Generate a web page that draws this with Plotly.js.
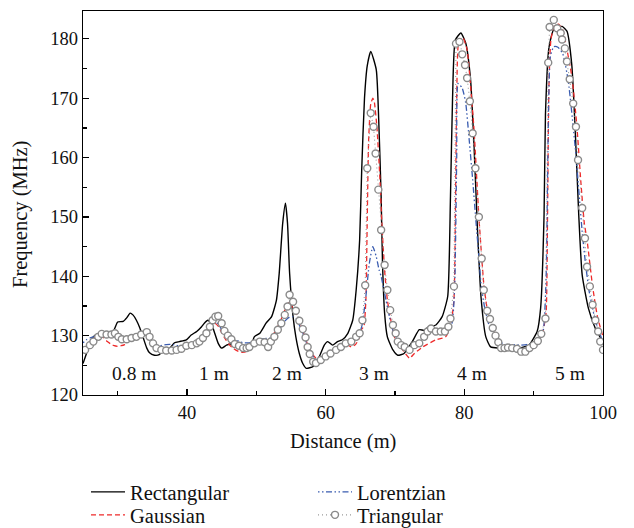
<!DOCTYPE html>
<html>
<head>
<meta charset="utf-8">
<script src="https://cdn.plot.ly/plotly-3.0.1.min.js"></script>
<style>html,body{margin:0;padding:0;background:#fff;}#chart{width:634px;height:528px;}</style>
</head>
<body>
<div id="chart"></div>
<script>
// Rectangular (black solid)
const rectX = [25, 25.5, 26, 26.5, 27, 28, 29, 29.5, 30, 30.8, 31.3, 31.8, 32.2, 32.7, 33.2, 33.7, 34.2, 34.6, 35.3, 36, 36.6, 37.5, 38.2, 38.9, 39.9, 40.6, 41.4, 42.1, 42.5, 43, 43.5, 44, 44.5, 45, 45.7, 46.4, 47.3, 48.3, 49.3, 49.7, 50.5, 51.4, 52.2, 52.9, 53.3, 53.8, 54.2, 54.5, 54.8, 55.3, 55.7, 56.2, 56.7, 57.2, 58.2, 59.1, 59.8, 60.3, 61, 61.7, 62.4, 63.2, 63.9, 64.4, 64.9, 65.2, 65.6, 66, 66.5, 67.3, 67.7, 68, 68.2, 68.5, 68.9, 69.7, 70.4, 71.3, 72.5, 73.5, 74.2, 74.9, 75.9, 76.8, 77.6, 78, 78.3, 78.7, 79.5, 80.2, 80.9, 81.4, 81.9, 82.4, 83.1, 83.8, 85, 86.5, 87.9, 89.3, 90.5, 91, 91.5, 91.7, 92.2, 92.9, 94.1, 94.8, 95.5, 96, 96.5, 97, 97.9, 98.9, 99.8];
const rectY = [125.3, 127, 128.8, 129.8, 130.2, 130.3, 130.2, 131, 132.3, 132.4, 133, 133.8, 133.5, 132.6, 131.3, 129.6, 127.9, 127.1, 126.7, 126.8, 127.6, 127.9, 128.8, 129, 129.3, 130.1, 130.7, 131.5, 132.1, 132.6, 132.1, 130.4, 128.7, 127.9, 128.4, 128.6, 128.3, 128.2, 128.5, 129.8, 130.4, 132.1, 133.2, 136, 140.5, 148.9, 152.3, 148.9, 140.5, 133.2, 129.8, 127, 125.3, 124.5, 124.8, 126.5, 128.4, 129, 128.4, 129, 129.3, 130.4, 132.6, 137.7, 146.1, 158, 170, 175.5, 177.9, 174.8, 164.7, 153.4, 142.2, 133.8, 129.8, 127.6, 126.7, 127, 129, 131, 130.9, 131.5, 131.8, 133.2, 136.6, 153.4, 170, 179.8, 181, 179.3, 173.1, 161.9, 147.8, 136.6, 129.8, 128.1, 127.9, 127.9, 127.9, 128.4, 130.7, 134.6, 150.4, 167.2, 178.5, 181.6, 182.1, 181.3, 175.6, 164.4, 150.4, 140.2, 134.6, 131.2, 129.3];

// Gaussian (red dashed)
const gaussX = [25, 25.5, 26, 26.5, 27, 27.5, 28, 28.5, 29, 29.5, 30, 30.5, 31, 31.5, 32, 32.5, 33, 33.5, 34, 34.5, 35, 35.5, 36, 37, 38, 39, 40, 41, 41.5, 42, 42.5, 43, 43.5, 44, 44.5, 45, 45.5, 46, 46.5, 47, 47.5, 48, 48.5, 49, 49.5, 50, 50.5, 51, 51.5, 52, 52.5, 53, 53.5, 54, 54.5, 54.8, 55.2, 55.6, 56, 56.5, 57, 57.5, 58, 58.5, 59, 59.5, 60, 61, 62, 62.9, 63.7, 64.3, 64.8, 65.1, 65.5, 65.8, 66, 66.2, 66.5, 66.8, 67, 67.4, 67.8, 68.1, 68.5, 68.9, 69.4, 69.9, 70.5, 71.1, 72.1, 72.8, 74, 75.9, 77.3, 78, 78.5, 78.7, 78.9, 79.2, 79.8, 80.4, 80.9, 81.4, 82.1, 82.8, 83.3, 83.8, 84.3, 84.8, 85.3, 86, 87, 88, 89, 89.5, 90.3, 90.9, 91.4, 91.8, 92, 92.2, 92.5, 93, 93.6, 94.2, 94.8, 95.5, 96.2, 96.8, 97.3, 97.7, 98.5, 99.2, 100];
const gaussY = [127.5, 128, 129, 129.5, 130, 130.1, 129.6, 129, 128.6, 128.3, 128.2, 128.3, 128.5, 128.9, 129.3, 129.7, 130, 130.4, 130.6, 130.2, 129, 128, 127.5, 127.3, 127.3, 127.6, 127.9, 128.2, 128.6, 129.2, 130, 131, 131.8, 132.1, 131.6, 130.5, 129.5, 128.6, 128, 127.6, 127.3, 127.2, 127.3, 127.8, 128.4, 128.8, 129, 128.9, 128.6, 129.2, 130.3, 131.3, 132.5, 134, 135.3, 135.7, 134.8, 134, 133.2, 131.5, 129.8, 128.2, 127, 126.3, 126, 126.2, 126.6, 127.3, 128, 128.6, 128.1, 128.5, 129.5, 131, 131.5, 136, 150, 163, 169, 170, 169.5, 165, 157, 149, 141, 136, 132.6, 129.8, 128.5, 127.6, 126.2, 127, 128.1, 129.3, 129.8, 131.5, 136, 150, 170, 179.5, 180.2, 178.2, 172, 164.7, 150, 138.8, 134.5, 132.5, 130.8, 129.3, 128.3, 127.9, 127.8, 127.6, 127.8, 128, 128.6, 129.5, 131, 134, 150, 172, 180, 182.2, 182.5, 181.5, 178.2, 173.7, 165.8, 156, 149, 146.1, 138.3, 133.2, 129.8];

// Lorentzian (blue dash-dot)
const lorX = [25, 25.5, 26, 26.5, 27, 28, 29, 30, 31, 32, 33, 33.8, 34.5, 35, 35.5, 36, 37, 38, 39, 40, 41, 42, 43, 43.5, 44, 44.5, 45, 45.5, 46, 47, 48, 49, 50, 51, 52, 52.6, 53.3, 54, 54.6, 55.2, 55.8, 56.3, 57, 57.5, 58, 58.6, 59.3, 60, 61, 62, 63, 64, 64.8, 65.3, 65.8, 66.3, 66.8, 67.3, 67.7, 68, 68.7, 69.2, 69.8, 70.5, 71.5, 72.5, 73.5, 74.5, 75.5, 76.5, 77.5, 78.2, 78.6, 78.9, 79.1, 79.7, 80.2, 80.7, 81.2, 81.7, 82.1, 82.4, 82.9, 83.5, 84, 85, 86, 87, 88, 89, 90, 90.8, 91.4, 91.8, 92.1, 92.4, 92.9, 93.5, 94.2, 95, 96, 97, 97.5, 98, 98.7, 99.3, 100];
const lorY = [128.8, 129.3, 129.6, 129.8, 130, 130.2, 130, 129.6, 129.5, 129.8, 130.2, 130.5, 130, 129, 128.5, 128.3, 128.5, 128.5, 128.2, 128.3, 128.8, 129.5, 130.8, 131.8, 132.2, 132, 131, 130, 129.5, 129.3, 128.8, 128.8, 129.2, 129.5, 129.6, 129.8, 131, 132.3, 133, 133.2, 132.8, 131.5, 129.5, 128, 126.8, 126, 126, 126.5, 127.3, 128, 128.8, 129.3, 130, 132.1, 136.6, 142.2, 145, 143.3, 141.1, 140, 136, 133.2, 130.5, 129, 128, 128, 129, 130.3, 130.8, 130.8, 131, 132, 138, 160, 172.5, 171.7, 169.2, 163, 156.3, 148.9, 143.3, 138.8, 134.9, 132, 130.5, 129, 128.5, 128.5, 128.4, 128.5, 128.8, 129.5, 131, 140, 165, 177, 178.7, 178.6, 177.5, 172.8, 161.6, 147.5, 141.9, 137.5, 133.5, 131, 129];

// Triangular (grey open circles, dotted)
const triX = [25.3, 26, 26.5, 27.2, 27.7, 28.4, 29.1, 29.6, 30.1, 30.6, 31.3, 32, 32.7, 33.4, 34.2, 34.6, 35.1, 35.6, 36.3, 37, 37.8, 38.5, 39.2, 39.9, 40.7, 41.4, 41.8, 42.3, 42.8, 43.3, 43.7, 44.1, 44.5, 45, 45.4, 45.9, 46.4, 46.9, 47.5, 48.1, 48.6, 49, 49.7, 50.5, 51.2, 51.7, 52.1, 52.6, 53.1, 53.6, 54.1, 54.5, 54.8, 55.3, 55.7, 56.2, 56.7, 57.1, 57.4, 57.7, 58.2, 58.6, 59.3, 60, 60.7, 61.5, 62.2, 62.9, 63.7, 64.4, 64.9, 65.3, 65.7, 66, 66.5, 66.9, 67.2, 67.6, 68, 68.5, 68.9, 69.3, 69.7, 70.1, 70.4, 70.9, 71.4, 72.1, 72.8, 73.5, 74.2, 74.7, 75.2, 75.9, 76.6, 77.2, 77.7, 78, 78.5, 78.8, 79.3, 79.7, 80.1, 80.4, 80.8, 81.2, 81.6, 82.1, 82.5, 82.8, 83.3, 83.7, 84.1, 84.5, 84.9, 85.3, 85.8, 86.3, 86.9, 87.6, 88.2, 88.8, 89.4, 90, 90.6, 91.1, 91.7, 92.1, 92.3, 92.9, 93.4, 93.9, 94.1, 94.5, 94.8, 95.2, 95.7, 96.1, 96.4, 97, 97.4, 97.7, 98.1, 98.5, 98.9, 99.3, 99.6, 100];
const triY = [127.6, 128.4, 129, 129.8, 130.3, 130.2, 130.2, 130.4, 129.8, 129.4, 129.4, 129.6, 129.8, 130.2, 130.6, 129.8, 128.7, 127.9, 127.6, 127.5, 127.5, 127.6, 127.8, 128.3, 128.4, 128.7, 129, 129.6, 130.4, 131.5, 132.6, 133.2, 133.3, 132.1, 130.8, 130, 129.4, 128.6, 128.3, 127.9, 127.9, 128.1, 128.7, 129, 128.9, 128.1, 129, 129.8, 131, 132.1, 133.5, 134.9, 136.9, 135.7, 134.2, 132.5, 131.1, 129.7, 128.1, 126.9, 125.6, 125.4, 125.9, 126.5, 127, 127.6, 128.1, 128.7, 129, 129.8, 130.4, 132.6, 138.5, 158.2, 167.5, 165.2, 160.7, 154.6, 147.8, 141.9, 137.7, 134.3, 131.8, 130.4, 129, 128.4, 128.1, 127.6, 128.4, 128.7, 129.8, 130.7, 131.2, 130.7, 130.7, 130.7, 131.5, 132.9, 138.3, 179.2, 179.5, 177.4, 175.6, 173.4, 169.5, 164.1, 158.2, 150, 143, 137.7, 134.2, 132.8, 131.3, 130, 128.9, 127.9, 127.9, 128, 127.9, 127.8, 127.3, 127.3, 127.9, 128.4, 129.1, 130.3, 132.9, 176, 182, 183.2, 181.8, 181, 179.9, 178.4, 176.2, 173.2, 169.1, 165.2, 159.6, 151.5, 146.4, 141.6, 138.3, 135.2, 132.6, 130.7, 129, 127.6];

const regionLabels = ['0.8 m', '1 m', '2 m', '3 m', '4 m', '5 m'];
const regionLabelX = [32.3, 43.9, 54.4, 67.0, 81.1, 95.3];
const regionLabelY = [123.6, 123.6, 123.6, 123.6, 123.6, 123.6];

const xTitle = 'Distance (m)';
const yTitle = 'Frequency (MHz)';

const FONT = 'Liberation Serif, Times New Roman, serif';
const TXT = '#111111';

function legendBox(xPx, yTopPx) {
  return {
    xref: 'container', yref: 'container', x: xPx / 634, y: 1 - yTopPx / 528,
    xanchor: 'left', yanchor: 'top', orientation: 'v', itemwidth: 34,
    bgcolor: 'rgba(0,0,0,0)', borderwidth: 0, tracegroupgap: 0,
    font: {family: FONT, size: 20.5, color: TXT}
  };
}

const traces = [
  {x: rectX, y: rectY, type: 'scatter', mode: 'lines', name: 'Rectangular', legend: 'legend',
   line: {color: '#000000', width: 1.4, shape: 'spline', smoothing: 0.5}},
  {x: gaussX, y: gaussY, type: 'scatter', mode: 'lines', name: 'Gaussian', legend: 'legend2',
   line: {color: '#ee2a2a', width: 1.3, dash: '5px,3px', shape: 'spline', smoothing: 0.5}},
  {x: lorX, y: lorY, type: 'scatter', mode: 'lines', name: 'Lorentzian', legend: 'legend3',
   line: {color: '#3a5cb0', width: 1.3, dash: '1.5px,2.5px,1.5px,2.5px,6px,2.5px', shape: 'spline', smoothing: 0.5}},
  {x: triX, y: triY, type: 'scatter', mode: 'lines+markers', name: 'Triangular', legend: 'legend4',
   line: {color: '#9a9a9a', width: 1.1, dash: '1px,3px'},
   marker: {symbol: 'circle', size: 7, color: '#ffffff', line: {color: '#8a8a8a', width: 1.4}}}
];

const annotations = regionLabels.map((t, i) => ({
  x: regionLabelX[i], y: regionLabelY[i], xref: 'x', yref: 'y', text: t, showarrow: false,
  font: {family: FONT, size: 19.5, color: TXT}
}));
annotations.push({
  xref: 'paper', yref: 'paper', x: 0.5, y: (395 - 441) / 384, xanchor: 'center', yanchor: 'middle',
  text: xTitle, showarrow: false, font: {family: FONT, size: 20.5, color: TXT}
});
annotations.push({
  xref: 'paper', yref: 'paper', x: (20 - 83) / 520, y: (395 - 215) / 384, xanchor: 'center', yanchor: 'middle',
  text: yTitle, textangle: -90, showarrow: false, font: {family: FONT, size: 20.5, color: TXT}
});

const layout = {
  width: 634, height: 528,
  margin: {l: 83, r: 31, t: 11, b: 133, autoexpand: false},
  paper_bgcolor: '#ffffff', plot_bgcolor: '#ffffff',
  font: {family: FONT, size: 18.5, color: TXT},
  showlegend: true,
  xaxis: {
    range: [25, 100], tickvals: [40, 60, 80, 100], ticktext: ['40', '60', '80', '100'],
    ticks: 'inside', ticklen: 6, tickwidth: 1.2, tickcolor: '#000',
    minor: {ticks: 'inside', tickvals: [30, 50, 70, 90], ticklen: 4, tickcolor: '#000'},
    showline: true, linecolor: '#000', linewidth: 1.4, mirror: true,
    showgrid: false, zeroline: false, automargin: false,
    tickfont: {family: FONT, size: 18.5, color: TXT}
  },
  yaxis: {
    range: [120, 184.7], tickvals: [120, 130, 140, 150, 160, 170, 180],
    ticks: 'inside', ticklen: 6, tickwidth: 1.2, tickcolor: '#000',
    minor: {ticks: 'inside', tickvals: [125, 135, 145, 155, 165, 175], ticklen: 4, tickcolor: '#000'},
    showline: true, linecolor: '#000', linewidth: 1.4, mirror: true,
    showgrid: false, zeroline: false, automargin: false,
    tickfont: {family: FONT, size: 18.5, color: TXT}
  },
  legend: legendBox(86, 472),
  legend2: legendBox(86, 495),
  legend3: legendBox(313, 472),
  legend4: legendBox(313, 495),
  annotations: annotations
};

Plotly.newPlot('chart', traces, layout, {staticPlot: true, displayModeBar: false});
</script>
</body>
</html>
